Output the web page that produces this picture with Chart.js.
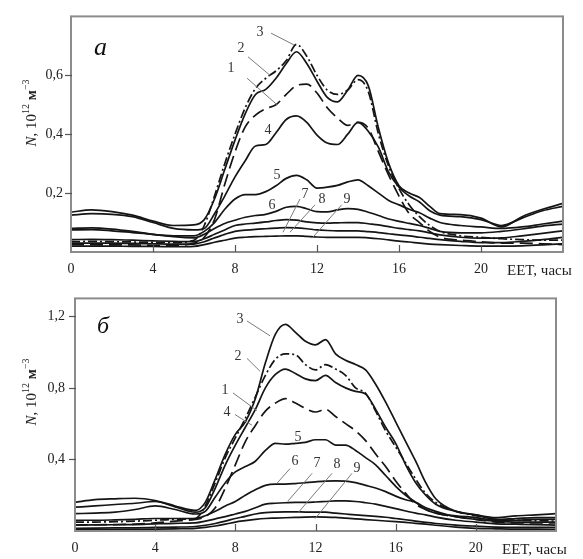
<!DOCTYPE html>
<html>
<head>
<meta charset="utf-8">
<script src="https://cdn.jsdelivr.net/npm/chart.js@4.4.1/dist/chart.umd.min.js"></script>
<style>
  body { margin: 0; background: #fff; }
  canvas { display: block; }
</style>
</head>
<body>
<canvas id="panel-a" width="583" height="280"></canvas>
<canvas id="panel-b" width="583" height="279"></canvas>
<script>
// Local time, EET hours
const hours = [0, 1, 2, 3, 4, 5, 6, 6.5, 7, 7.5, 8, 8.5, 9, 9.5, 10, 10.5, 11, 11.5, 12, 12.5,
               13, 13.5, 14, 14.5, 15, 15.5, 16, 16.5, 17, 17.5, 18, 19, 20, 21, 22, 23, 24];

// Panel "а", electron density, 10^12 m^-3
const a1 = [0.035, 0.036, 0.035, 0.034, 0.033, 0.032, 0.04, 0.09, 0.19, 0.30, 0.40, 0.49, 0.555, 0.59, 0.615, 0.65, 0.705, 0.665, 0.60, 0.55,
            0.535, 0.55, 0.585, 0.545, 0.40, 0.29, 0.215, 0.16, 0.12, 0.09, 0.07, 0.055, 0.05, 0.045, 0.042, 0.04, 0.04];
const a2 = [0.135, 0.143, 0.137, 0.125, 0.105, 0.09, 0.092, 0.11, 0.18, 0.28, 0.38, 0.47, 0.535, 0.552, 0.59, 0.64, 0.68, 0.64, 0.58, 0.525,
            0.51, 0.55, 0.60, 0.565, 0.42, 0.30, 0.225, 0.20, 0.185, 0.155, 0.13, 0.127, 0.115, 0.085, 0.12, 0.145, 0.165];
const a3 = [0.025, 0.025, 0.024, 0.024, 0.023, 0.023, 0.03, 0.05, 0.11, 0.23, 0.34, 0.425, 0.465, 0.487, 0.50, 0.535, 0.565, 0.57, 0.54, 0.49,
            0.455, 0.43, 0.44, 0.42, 0.34, 0.26, 0.19, 0.13, 0.10, 0.07, 0.05, 0.04, 0.035, 0.03, 0.03, 0.028, 0.025];
const a4 = [0.125, 0.13, 0.128, 0.12, 0.10, 0.08, 0.075, 0.08, 0.13, 0.19, 0.255, 0.31, 0.36, 0.365, 0.405, 0.45, 0.462, 0.44, 0.397, 0.37,
            0.365, 0.40, 0.44, 0.41, 0.355, 0.27, 0.22, 0.19, 0.17, 0.14, 0.125, 0.12, 0.11, 0.09, 0.115, 0.14, 0.155];
const a5 = [0.08, 0.082, 0.078, 0.07, 0.06, 0.055, 0.055, 0.07, 0.10, 0.145, 0.18, 0.195, 0.195, 0.205, 0.225, 0.25, 0.26, 0.245, 0.217, 0.22,
            0.226, 0.238, 0.245, 0.225, 0.20, 0.175, 0.16, 0.145, 0.133, 0.115, 0.10, 0.09, 0.085, 0.08, 0.085, 0.095, 0.105];
const a6 = [0.075, 0.076, 0.072, 0.066, 0.06, 0.052, 0.048, 0.06, 0.08, 0.097, 0.108, 0.118, 0.124, 0.128, 0.138, 0.152, 0.155, 0.147, 0.137, 0.136,
            0.143, 0.147, 0.145, 0.135, 0.124, 0.112, 0.104, 0.097, 0.09, 0.08, 0.07, 0.065, 0.065, 0.07, 0.078, 0.088, 0.095];
const a7 = [0.042, 0.043, 0.042, 0.04, 0.038, 0.036, 0.035, 0.045, 0.06, 0.075, 0.09, 0.095, 0.098, 0.102, 0.107, 0.11, 0.108, 0.102, 0.099, 0.098,
            0.099, 0.10, 0.10, 0.096, 0.092, 0.086, 0.08, 0.076, 0.072, 0.065, 0.058, 0.05, 0.047, 0.048, 0.055, 0.063, 0.072];
const a8 = [0.03, 0.03, 0.03, 0.029, 0.028, 0.027, 0.027, 0.035, 0.048, 0.06, 0.07, 0.074, 0.077, 0.079, 0.081, 0.083, 0.082, 0.079, 0.075, 0.073,
            0.072, 0.072, 0.072, 0.069, 0.066, 0.062, 0.058, 0.055, 0.05, 0.046, 0.042, 0.036, 0.032, 0.032, 0.036, 0.042, 0.05];
const a9 = [0.02, 0.02, 0.02, 0.019, 0.019, 0.018, 0.019, 0.025, 0.033, 0.04, 0.047, 0.05, 0.052, 0.053, 0.054, 0.055, 0.055, 0.053, 0.051, 0.05,
            0.05, 0.05, 0.05, 0.048, 0.045, 0.041, 0.037, 0.034, 0.03, 0.027, 0.025, 0.022, 0.02, 0.02, 0.021, 0.024, 0.028];

// Panel "б"
const b1 = [0.16, 0.175, 0.18, 0.183, 0.17, 0.14, 0.115, 0.16, 0.29, 0.43, 0.54, 0.61, 0.74, 0.94, 1.10, 1.155, 1.11, 1.06, 1.04, 1.07,
            0.99, 0.955, 0.93, 0.90, 0.82, 0.72, 0.61, 0.50, 0.39, 0.27, 0.18, 0.11, 0.09, 0.075, 0.085, 0.09, 0.097];
const b2 = [0.05, 0.05, 0.052, 0.055, 0.06, 0.065, 0.07, 0.14, 0.27, 0.41, 0.52, 0.63, 0.75, 0.87, 0.96, 0.99, 0.985, 0.93, 0.90, 0.93,
            0.905, 0.87, 0.80, 0.77, 0.67, 0.56, 0.47, 0.38, 0.29, 0.21, 0.16, 0.11, 0.085, 0.065, 0.06, 0.058, 0.055];
const b3 = [0.133, 0.14, 0.148, 0.155, 0.165, 0.135, 0.105, 0.13, 0.24, 0.37, 0.48, 0.58, 0.68, 0.80, 0.875, 0.905, 0.88, 0.85, 0.84, 0.87,
            0.83, 0.80, 0.78, 0.765, 0.68, 0.58, 0.49, 0.37, 0.27, 0.20, 0.15, 0.11, 0.09, 0.065, 0.07, 0.075, 0.075];
const b4 = [0.035, 0.035, 0.036, 0.038, 0.045, 0.055, 0.065, 0.08, 0.13, 0.24, 0.37, 0.50, 0.59, 0.67, 0.715, 0.74, 0.715, 0.685, 0.665, 0.68,
            0.64, 0.60, 0.56, 0.505, 0.43, 0.36, 0.28, 0.21, 0.15, 0.12, 0.10, 0.08, 0.065, 0.05, 0.045, 0.045, 0.045];
const b5 = [0.097, 0.10, 0.105, 0.12, 0.14, 0.12, 0.095, 0.11, 0.19, 0.27, 0.33, 0.36, 0.39, 0.45, 0.49, 0.485, 0.49, 0.495, 0.51, 0.51,
            0.48, 0.48, 0.45, 0.41, 0.37, 0.31, 0.25, 0.20, 0.16, 0.12, 0.10, 0.085, 0.075, 0.06, 0.06, 0.065, 0.065];
const b6 = [0.06, 0.06, 0.062, 0.065, 0.07, 0.07, 0.07, 0.085, 0.11, 0.14, 0.165, 0.20, 0.23, 0.255, 0.262, 0.262, 0.265, 0.27, 0.275, 0.279,
            0.28, 0.279, 0.27, 0.255, 0.24, 0.22, 0.195, 0.175, 0.16, 0.13, 0.11, 0.08, 0.065, 0.055, 0.05, 0.05, 0.05];
const b7 = [0.033, 0.034, 0.035, 0.036, 0.04, 0.043, 0.045, 0.055, 0.068, 0.08, 0.095, 0.11, 0.13, 0.15, 0.155, 0.158, 0.16, 0.16, 0.162, 0.165,
            0.168, 0.168, 0.165, 0.158, 0.15, 0.138, 0.125, 0.112, 0.10, 0.09, 0.078, 0.06, 0.05, 0.04, 0.038, 0.036, 0.033];
const b8 = [0.015, 0.016, 0.017, 0.018, 0.02, 0.022, 0.025, 0.032, 0.042, 0.055, 0.07, 0.082, 0.095, 0.103, 0.106, 0.107, 0.107, 0.106, 0.106, 0.105,
            0.10, 0.095, 0.09, 0.086, 0.082, 0.077, 0.07, 0.063, 0.055, 0.048, 0.042, 0.033, 0.027, 0.022, 0.02, 0.02, 0.02];
const b9 = [0.006, 0.007, 0.008, 0.009, 0.01, 0.012, 0.015, 0.02, 0.028, 0.038, 0.05, 0.058, 0.065, 0.07, 0.072, 0.074, 0.076, 0.078, 0.079, 0.078,
            0.076, 0.072, 0.068, 0.064, 0.06, 0.056, 0.052, 0.048, 0.043, 0.038, 0.032, 0.022, 0.015, 0.012, 0.01, 0.01, 0.009];

const xTicks = [0, 4, 8, 12, 16, 20];
const yTicksA = [0.2, 0.4, 0.6];
const yTicksB = [0.4, 0.8, 1.2];

const SERIF = '"Liberation Serif", "DejaVu Serif", serif';
const INK = '#151515';
const DASHDOT = [9, 3, 2, 3];
const DASHED = [13, 6];

function series(values, dash) {
  return {
    data: hours.map((h, i) => ({ x: h, y: values[i] })),
    borderColor: INK,
    borderWidth: 1.7,
    borderDash: dash || [],
    pointRadius: 0,
    cubicInterpolationMode: 'monotone',
    fill: false
  };
}

// rotated axis title: N, 10^12 м^-3
function drawYTitle(ctx, cx, cy) {
  const parts = [
    { s: 'N', font: 'italic 15px ' + SERIF, dy: 0 },
    { s: ', 10', font: '15px ' + SERIF, dy: 0 },
    { s: '12', font: '10px ' + SERIF, dy: -7 },
    { s: ' м', font: 'bold 15px ' + SERIF, dy: 0 },
    { s: '−3', font: '10px ' + SERIF, dy: -7 }
  ];
  ctx.save();
  let total = 0;
  parts.forEach(p => { ctx.font = p.font; p.w = ctx.measureText(p.s).width; total += p.w; });
  ctx.translate(cx, cy);
  ctx.rotate(-Math.PI / 2);
  ctx.fillStyle = '#222';
  ctx.textBaseline = 'alphabetic';
  let x = -total / 2;
  parts.forEach(p => { ctx.font = p.font; ctx.fillText(p.s, x, p.dy); x += p.w; });
  ctx.restore();
}

const decor = {
  id: 'decor',
  afterDatasetsDraw(chart, args, opts) {
    const { ctx, chartArea: area, scales: { x, y } } = chart;
    ctx.save();

    // frame
    ctx.strokeStyle = '#8c8c8c';
    ctx.lineWidth = 2;
    ctx.strokeRect(area.left, area.top, area.right - area.left, area.bottom - area.top);

    // inward ticks on the time axis, short outer ticks on the density axis
    ctx.strokeStyle = '#555';
    ctx.lineWidth = 1.2;
    xTicks.slice(1).forEach(v => {
      const px = Math.round(x.getPixelForValue(v)) + 0.5;
      ctx.beginPath(); ctx.moveTo(px, area.bottom); ctx.lineTo(px, area.bottom - 7); ctx.stroke();
    });
    opts.yTicks.forEach(v => {
      const py = Math.round(y.getPixelForValue(v)) + 0.5;
      ctx.beginPath(); ctx.moveTo(area.left - 6, py); ctx.lineTo(area.left + 1, py); ctx.stroke();
    });

    // curve numbers with leader lines
    ctx.font = '14px ' + SERIF;
    ctx.textAlign = 'center';
    ctx.textBaseline = 'middle';
    opts.labels.forEach(l => {
      if (l.from) {
        ctx.strokeStyle = '#7a7a7a';
        ctx.lineWidth = 1;
        ctx.beginPath();
        ctx.moveTo(x.getPixelForValue(l.from[0]), y.getPixelForValue(l.from[1]));
        ctx.lineTo(x.getPixelForValue(l.to[0]), y.getPixelForValue(l.to[1]));
        ctx.stroke();
      }
      ctx.fillStyle = '#333';
      ctx.fillText(l.t, x.getPixelForValue(l.at[0]), y.getPixelForValue(l.at[1]));
    });

    // panel letter
    ctx.fillStyle = '#111';
    ctx.textAlign = 'left';
    ctx.textBaseline = 'alphabetic';
    ctx.font = 'italic ' + opts.letterSize + 'px ' + SERIF;
    ctx.fillText(opts.letter, opts.letterPos[0], opts.letterPos[1]);

    // axis titles
    drawYTitle(ctx, 36, opts.titleY);
    ctx.font = '15px ' + SERIF;
    ctx.fillStyle = '#222';
    ctx.fillText('EET, часы', opts.unitPos[0], opts.unitPos[1]);
    ctx.restore();
  }
};

function comma(v) {
  return v.toFixed(1).replace('.', ',');
}

function makePanel(id, sets, yMax, yStep, yTicks, pad, yWidth, labelPad, decorOpts) {
  return new Chart(document.getElementById(id), {
    type: 'line',
    data: { datasets: sets },
    options: {
      responsive: false,
      devicePixelRatio: 1,
      animation: false,
      events: [],
      layout: { padding: pad },
      plugins: {
        legend: { display: false },
        tooltip: { enabled: false },
        decor: Object.assign({ yTicks: yTicks }, decorOpts)
      },
      scales: {
        x: {
          type: 'linear', min: 0, max: 24,
          grid: { display: false, drawTicks: false },
          border: { display: false },
          afterFit: s => { s.height = 28; },
          ticks: {
            stepSize: 4, autoSkip: false, maxRotation: 0, padding: 9,
            color: '#222', font: { family: SERIF, size: 14 },
            callback: v => (xTicks.includes(v) ? String(v) : '')
          }
        },
        y: {
          type: 'linear', min: 0, max: yMax,
          grid: { display: false, drawTicks: false },
          border: { display: false },
          afterFit: s => { s.width = yWidth; },
          ticks: {
            stepSize: yStep, autoSkip: false, padding: labelPad,
            color: '#222', font: { family: SERIF, size: 14 },
            callback: v => (yTicks.some(t => Math.abs(t - v) < 1e-6) ? comma(v) : '')
          }
        }
      }
    },
    plugins: [decor]
  });
}

makePanel('panel-a',
  [series(a1, DASHDOT), series(a2), series(a3, DASHED), series(a4), series(a5),
   series(a6), series(a7), series(a8), series(a9)],
  0.8, 0.2, yTicksA, { left: 0, right: 20, top: 12, bottom: 0 }, 71, 8,
  {
    letter: 'а', letterSize: 26, letterPos: [94, 55], titleY: 113, unitPos: [507, 275],
    labels: [
      { t: '3', at: [9.22, 0.747], from: [9.76, 0.743], to: [10.88, 0.703] },
      { t: '2', at: [8.29, 0.69], from: [8.63, 0.663], to: [9.71, 0.60] },
      { t: '1', at: [7.8, 0.623], from: [8.59, 0.59], to: [10.05, 0.50] },
      { t: '4', at: [9.61, 0.413] },
      { t: '5', at: [10.05, 0.26] },
      { t: '6', at: [9.8, 0.157] },
      { t: '7', at: [11.41, 0.197], from: [11.17, 0.18], to: [10.34, 0.067] },
      { t: '8', at: [12.24, 0.18], from: [11.9, 0.16], to: [10.68, 0.067] },
      { t: '9', at: [13.46, 0.18], from: [13.2, 0.16], to: [11.76, 0.047] }
    ]
  });

makePanel('panel-b',
  [series(b1), series(b2, DASHDOT), series(b3), series(b4, DASHED), series(b5),
   series(b6), series(b7), series(b8), series(b9)],
  1.3, 0.4, yTicksB, { left: 0, right: 27, top: 14, bottom: 0 }, 75, 10,
  {
    letter: 'б', letterSize: 24, letterPos: [97, 53], titleY: 112, unitPos: [502, 274],
    labels: [
      { t: '3', at: [8.23, 1.185], from: [8.58, 1.174], to: [9.73, 1.091] },
      { t: '2', at: [8.13, 0.976], from: [8.58, 0.965], to: [9.23, 0.893] },
      { t: '1', at: [7.49, 0.789], from: [7.88, 0.772], to: [9.08, 0.673] },
      { t: '4', at: [7.58, 0.662], from: [7.98, 0.651], to: [8.83, 0.591] },
      { t: '5', at: [11.13, 0.525] },
      { t: '6', at: [10.98, 0.388], from: [10.73, 0.349], to: [10.08, 0.267] },
      { t: '7', at: [12.08, 0.377], from: [11.83, 0.322], to: [10.63, 0.168] },
      { t: '8', at: [13.07, 0.371], from: [12.82, 0.322], to: [11.13, 0.102] },
      { t: '9', at: [14.07, 0.349], from: [13.82, 0.322], to: [11.98, 0.069] }
    ]
  });
</script>
</body>
</html>
